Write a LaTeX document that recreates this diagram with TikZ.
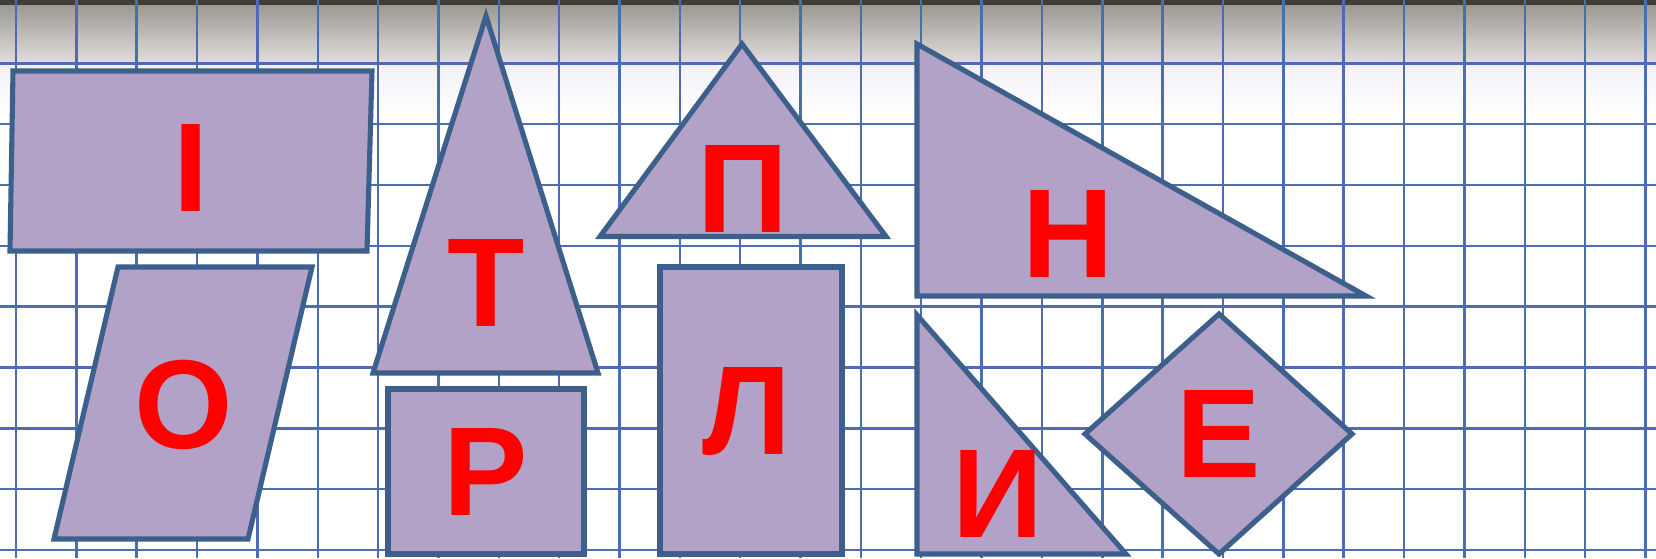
\documentclass[tikz,border=0pt]{standalone}
\usepackage{fontspec}
\setmainfont{Liberation Sans}
\definecolor{colorRelleno}{HTML}{B2A2C7}
\definecolor{colorBorde}{HTML}{3C5F8C}
\definecolor{colorCuadricula}{HTML}{4C6CB4}
\definecolor{colorLetra}{HTML}{FF0000}
\definecolor{colorBanda}{HTML}{3E3E36}
\definecolor{colorSombra}{HTML}{9A9890}
\definecolor{colorClaro}{HTML}{E2DEDE}
\definecolor{colorNiebla}{HTML}{F2F0F6}

\begin{document}
\begin{tikzpicture}[
        x=0.02cm, y=-0.02cm,
        fig/.style={draw=colorBorde, fill=colorRelleno, line width=2.9pt},
        letra/.style={text=colorLetra, inner sep=0pt,
            font=\bfseries\fontsize{72}{72}\selectfont},
        linea/.style={draw=colorCuadricula, line width=1.4pt}
    ]
        \useasboundingbox (0,0) rectangle (1656,558);
        % hoja cuadriculada
        \fill[white] (0,0) rectangle (1656,558);
        \shade[top color=colorSombra, bottom color=colorClaro] (0,4) rectangle (1656,63);
        \shade[top color=colorNiebla, bottom color=white] (0,63) rectangle (1656,115);
        \fill[colorBanda] (0,0) rectangle (1656,5);
        \foreach \i in {0,...,27} \draw[linea] ({16+60.35*\i},0) -- ({16+60.35*\i},558);
        \foreach \j in {0,...,8} \draw[linea] (0,{63.3+60.85*\j}) -- (1656,{63.3+60.85*\j});
        % figuras
        \draw[fig] (13,71) -- (372,71) -- (367,251) -- (10,251) -- cycle;
        \draw[fig] (118,267) -- (312,267) -- (248,539) -- (54,539) -- cycle;
        \draw[fig] (486,16) -- (598,373) -- (373,373) -- cycle;
        \draw[fig] (388,389) rectangle (584,554);
        \draw[fig] (742,44) -- (886,236.5) -- (600,236.5) -- cycle;
        \draw[fig] (660,267) rectangle (842,554);
        \draw[fig] (917,44) -- (1366,296) -- (917,296) -- cycle;
        \draw[fig] (917,315) -- (1126,554) -- (917,554) -- cycle;
        \draw[fig] (1219,314) -- (1352,434) -- (1219,554) -- (1085,434) -- cycle;
        % letras
        \node[letra] (i) at (190.6,167.7) {І};
        \node[letra] (t) at (486,283) {Т};
        \node[letra] (o) at (183.7,404.5) {О};
        \node[letra] (r) at (485.5,472) {Р};
        \node[letra] (p) at (743,189) {П};
        \node[letra] (n) at (1068,233.7) {Н};
        \node[letra] (l) at (747,411) {Л};
        \node[letra] (y) at (998,494.4) {И};
        \node[letra] (e) at (1219,434) {Е};
    \end{tikzpicture}
\end{document}
